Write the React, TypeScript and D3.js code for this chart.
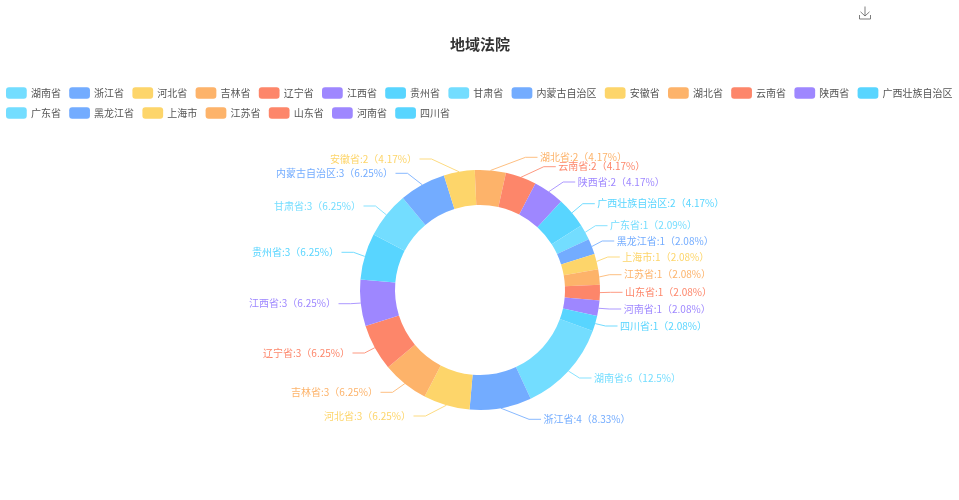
import React from "react";
import * as d3 from "d3";

const provinces = ["湖南省", "浙江省", "河北省", "吉林省", "辽宁省", "江西省", "贵州省", "甘肃省", "内蒙古自治区", "安徽省", "湖北省", "云南省", "陕西省", "广西壮族自治区", "广东省", "黑龙江省", "上海市", "江苏省", "山东省", "河南省", "四川省"];
const counts = [6, 4, 3, 3, 3, 3, 3, 3, 3, 2, 2, 2, 2, 2, 1, 1, 1, 1, 1, 1, 1];
const percents = ["12.5", "8.33", "6.25", "6.25", "6.25", "6.25", "6.25", "6.25", "6.25", "4.17", "4.17", "4.17", "4.17", "4.17", "2.09", "2.08", "2.08", "2.08", "2.08", "2.08", "2.08"];
const palette = ["#73DDFF", "#73ACFF", "#FDD56A", "#FDB36A", "#FD866A", "#9E87FF", "#58D5FF"];

// where the overlap shifting left each label (near edge of the text)
const labelX = [594, 543.5, 411, 378, 350, 336, 339, 361, 393, 417, 540, 558.3, 577.7, 597.3, 610, 616.7, 622.3, 624, 625, 623.7, 620];
const labelY = [378, 419.3, 416, 392.3, 353, 303.7, 252.3, 206, 173.3, 159, 157.3, 166.7, 182, 203.7, 225.7, 241, 257, 274.7, 292.3, 309, 326];

const width = 959;
const height = 500;
const cx = 480;
const cy = 290;
const outer = 120;
const inner = 85;
const lineEnd = 2.5;
const lineFlat = 12;
const textNudge = -0.8;

const legendLeft = 6;
const legendRows = [93, 113];
const swatchW = 20.75;
const swatchH = 11.6;
const fontSize = 10;
const fontFamily = "'Noto Sans CJK SC', 'Noto Sans', sans-serif";

const deg = Math.PI / 180;
const color = d3.scaleOrdinal<number, string>().domain(d3.range(7)).range(palette);

const App: React.FC = () => {
  const slices = d3
    .pie<number>()
    .sort(null)
    .startAngle(110 * deg)
    .endAngle(470 * deg)(counts);

  const arc = d3.arc<d3.PieArcDatum<number>>().innerRadius(inner).outerRadius(outer);

  // legend wraps when the next item would not fit
  let lx = legendLeft;
  let row = 0;
  const legend = provinces.map((name, i) => {
    const w = swatchW + 4.15 + name.length * fontSize;
    if (lx + w > width) {
      lx = legendLeft;
      row += 1;
    }
    const item = { name, i, x: lx, y: legendRows[row] };
    lx += w + 8.3;
    return item;
  });

  return (
    <svg
      width={width}
      height={height}
      style={{ position: "absolute", left: 0, top: 0, fontFamily, filter: "blur(0.35px)" }}
    >
      <text x={cx} y={43.5} textAnchor="middle" dominantBaseline="central" fontSize={15} fontWeight="bold" fill="#333">
        地域法院
      </text>

      <g stroke="#666" strokeWidth={0.85} fill="none">
        <path d="M865 6.5V16M860.5 11.8L865 16L869.5 11.8M859.5 15V19H870.5V15" />
      </g>

      {legend.map((d) => (
        <g key={d.name}>
          <rect
            x={d.x}
            y={d.y - swatchH / 2}
            width={swatchW}
            height={swatchH}
            rx={3}
            fill={color(d.i % 7)}
          />
          <text x={d.x + swatchW + 4.15} y={d.y + textNudge} dominantBaseline="central" fontSize={fontSize} fill="#555">
            {d.name}
          </text>
        </g>
      ))}

      <g transform={`translate(${cx},${cy})`}>
        {slices.map((s, i) => (
          <path key={provinces[i]} d={arc(s) ?? ""} fill={color(i % 7)} />
        ))}
      </g>

      {slices.map((s, i) => {
        const mid = (s.startAngle + s.endAngle) / 2;
        const sx = cx + outer * Math.sin(mid);
        const sy = cy - outer * Math.cos(mid);
        const right = labelX[i] > cx && Math.sin(mid) > 0;
        const dir = right ? 1 : -1;
        const endX = labelX[i] - dir * lineEnd;
        const line = d3.line()([
          [sx, sy],
          [endX - dir * lineFlat, labelY[i]],
          [endX, labelY[i]],
        ]);
        return (
          <g key={provinces[i]}>
            <path d={line ?? ""} fill="none" stroke={color(i % 7)} strokeWidth={0.85} />
            <text
              x={labelX[i]}
              y={labelY[i] + textNudge}
              textAnchor={right ? "start" : "end"}
              dominantBaseline="central"
              fontSize={fontSize}
              fill={color(i % 7)}
            >
              {`${provinces[i]}:${counts[i]}（${percents[i]}%）`}
            </text>
          </g>
        );
      })}
    </svg>
  );
};

export default App;
